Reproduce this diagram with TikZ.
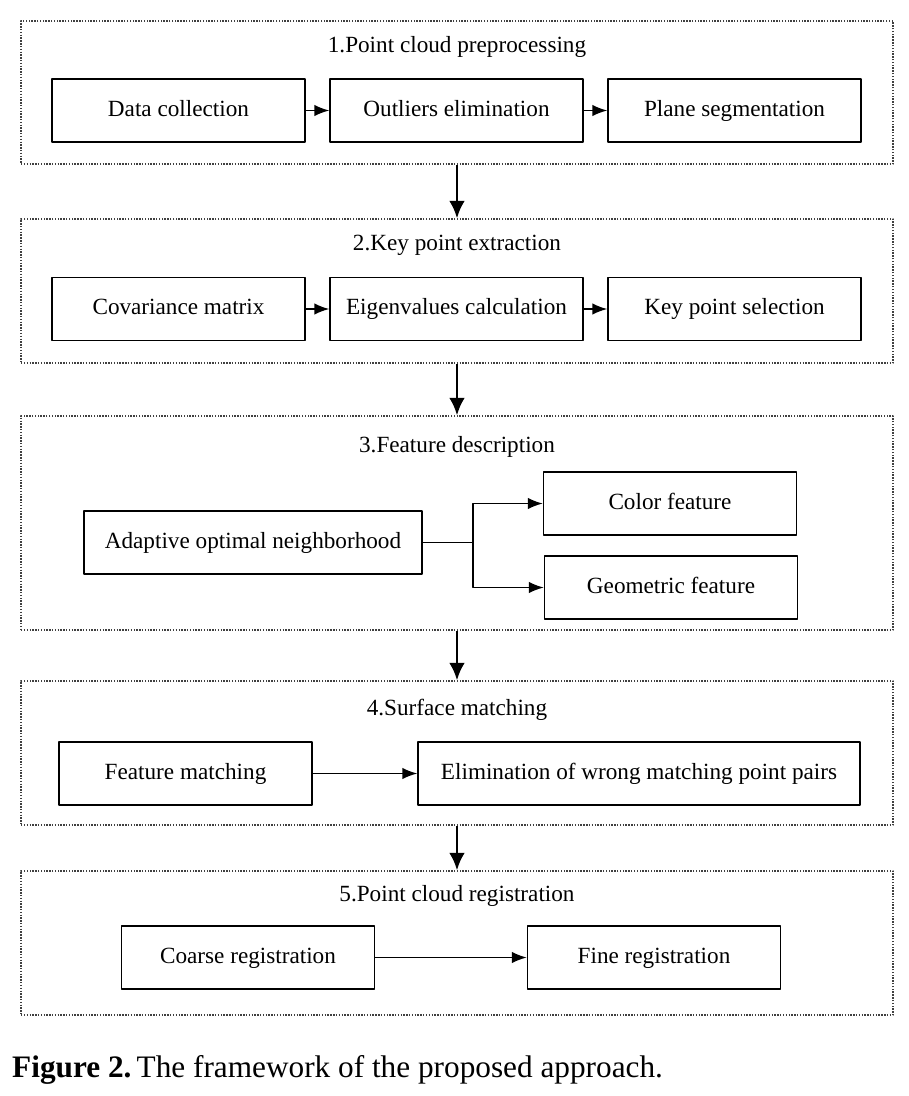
\documentclass[tikz,border=0pt]{standalone}
\usepackage{fontspec}
\setmainfont{Liberation Serif}
\usetikzlibrary{arrows.meta}
\begin{document}
\begin{tikzpicture}[x=0.02cm,y=-0.02cm,>={Latex[length=8.5pt,width=6.5pt]},line join=bevel,
  frame/.style={draw=black!75,dash pattern=on 0.8pt off 0.8pt,line width=0.7pt,minimum width=17.44cm,inner sep=0pt},
  stepbox/.style={draw,line width=0.85pt,minimum width=5.06cm,minimum height=1.26cm,inner sep=0pt,text height=1.7ex,text depth=0.25ex,font=\fontsize{13.2}{15}\selectfont},
  title/.style={text height=1.7ex,text depth=0.25ex,font=\fontsize{13.2}{15}\selectfont},
  link/.style={black,->,line width=0.85pt},
  down/.style={->,line width=1.7pt,>={Latex[length=10pt,width=9pt]}}]
%%
  \useasboundingbox (0,0) rectangle (909,1096);
  \node (frame_1) at (457,92.5) [frame,minimum height=2.86cm] {};
  \node (frame_2) at (457,291) [frame,minimum height=2.88cm] {};
  \node (frame_3) at (457,523) [frame,minimum height=4.28cm] {};
  \node (frame_4) at (457,753) [frame,minimum height=2.88cm] {};
  \node (frame_5) at (457,943) [frame,minimum height=2.88cm] {};

  \node (title_1) at (457,47) [title] {1.Point cloud preprocessing};
  \node (title_2) at (457,245) [title] {2.Key point extraction};
  \node (title_3) at (457,447) [title] {3.Feature description};
  \node (title_4) at (457,710) [title] {4.Surface matching};
  \node (title_5) at (457,896) [title] {5.Point cloud registration};

  \node (collect) at (178.5,110.5) [stepbox] {Data collection};
  \node (outlier) at (456.5,110.5) [stepbox] {Outliers elimination};
  \node (plane) at (734.5,110.5) [stepbox] {Plane segmentation};

  \node (covar) at (178.5,309) [stepbox] {Covariance matrix};
  \node (eigen) at (456.5,309) [stepbox] {Eigenvalues calculation};
  \node (keysel) at (734.5,309) [stepbox] {Key point selection};

  \node (adapt) at (253,542.5) [stepbox,minimum width=6.76cm] {Adaptive optimal neighborhood};
  \node (color) at (670,503.5) [stepbox] {Color feature};
  \node (geom) at (671,587.5) [stepbox] {Geometric feature};
  \coordinate (split) at (473,542.5);

  \node (featmatch) at (185.5,773.5) [stepbox] {Feature matching};
  \node (wrongpair) at (639,773.5) [stepbox,minimum width=8.84cm] {Elimination of wrong matching point pairs};

  \node (coarse) at (248,957.5) [stepbox] {Coarse registration};
  \node (fine) at (654,957.5) [stepbox] {Fine registration};

  \node (caption) at (6,1070) [anchor=west,font=\fontsize{17.8}{21}\selectfont] {\textbf{Figure 2.}\,The framework of the proposed approach.};

  \draw [link] (collect) edge (outlier);
  \draw [link] (outlier) edge (plane);
  \draw [link] (covar) edge (eigen);
  \draw [link] (eigen) edge (keysel);
  \draw [line width=0.85pt] (adapt.east) -- (split);
  \draw [link] (split) |- (color.west);
  \draw [link] (split) |- (geom.west);
  \draw [link] (featmatch) edge (wrongpair);
  \draw [link] (coarse) edge (fine);

  \draw [down] (frame_1) edge (frame_2);
  \draw [down] (frame_2) edge (frame_3);
  \draw [down] (frame_3) edge (frame_4);
  \draw [down] (frame_4) edge (frame_5);
%
\end{tikzpicture}
\end{document}
